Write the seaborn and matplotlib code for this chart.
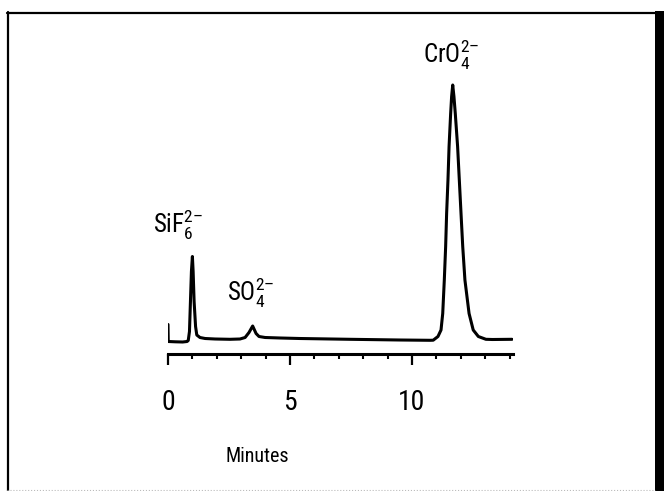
import matplotlib
matplotlib.use("Agg")
import matplotlib.pyplot as plt
from matplotlib import font_manager
from matplotlib.ticker import MultipleLocator
from matplotlib.lines import Line2D
from matplotlib.patches import Rectangle
import seaborn as sns

# chromatogram trace (minutes, detector response, arbitrary units)
minutes = [0.0, 0.01, 0.3, 0.6, 0.78, 0.83, 0.88, 0.92, 0.96, 1.0, 1.03, 1.07, 1.13,
           1.18, 1.31, 1.52, 1.93, 2.54, 2.95, 3.16, 3.32, 3.47, 3.61, 3.73, 3.98,
           4.6, 5.4, 7.46, 9.5, 10.74, 10.87, 11.065, 11.19, 11.26, 11.325, 11.38,
           11.42, 11.475, 11.52, 11.585, 11.625, 11.67, 11.72, 11.775, 11.87, 11.94,
           12.01, 12.08, 12.17, 12.34, 12.51, 12.72, 13.03, 13.3, 14.1]
response = [17, 0, -0.3, -0.5, 0, 1, 10, 40, 70, 85, 70, 40, 15,
            6.5, 4, 3, 2.5, 2.2, 2.5, 4, 9, 15.5, 8, 5, 4,
            3.5, 3, 2.2, 1.5, 1.2, 1.3, 5, 11.5, 28, 61.5, 95,
            128, 161.5, 195, 228, 245, 256.5, 245, 228, 195, 161.5,
            128, 95, 61.5, 28, 11.5, 5, 2.2, 2, 2.2]

# peak labels: text, x (min), y (baseline of the label)
peak_names = ["$\\mathrm{SiF}_{6}^{2\u2013}$", "$\\mathrm{SO}_{4}^{2\u2013}$",
              "$\\mathrm{CrO}_{4}^{2\u2013}$"]
peak_label_x = [-0.61, 2.40, 10.45]
peak_label_y = [108.5, 40.5, 278.5]

tick_values = [0, 5, 10]

# narrowest sans family that is installed
installed = {f.name for f in font_manager.fontManager.ttflist}
wanted = ["Liberation Sans Narrow", "Roboto Condensed", "Open Sans Condensed",
          "Liberation Sans", "Arial", "DejaVu Sans"]
narrow = [n for n in wanted if n in installed][0]

sns.set_style("white")
plt.rcParams["font.family"] = [narrow, "DejaVu Sans"]
plt.rcParams["mathtext.fontset"] = "custom"
plt.rcParams["mathtext.rm"] = narrow
plt.rcParams["mathtext.it"] = narrow + ":italic"
plt.rcParams["mathtext.bf"] = narrow + ":bold"
plt.rcParams["text.color"] = "black"
plt.rcParams["axes.labelcolor"] = "black"
plt.rcParams["xtick.color"] = "black"

W, H = 664, 491
fig = plt.figure(figsize=(6.64, 4.91), dpi=100)
ax = fig.add_axes([168 / W, (H - 354) / H, 344.5 / W, 294 / H])

sns.lineplot(x=minutes, y=response, ax=ax, color="black", linewidth=2.2,
             sort=False, estimator=None)

ax.set_xlim(0, 14.12)
ax.set_ylim(-12.5, 281.5)
for side in ["left", "right", "top"]:
    ax.spines[side].set_visible(False)
ax.spines["bottom"].set_linewidth(2.2)
ax.spines["bottom"].set_color("black")
ax.set_yticks([])
ax.set_xticks(tick_values)
ax.xaxis.set_minor_locator(MultipleLocator(1))
ax.tick_params(axis="x", which="major", direction="out", length=8, width=1.6,
               labelsize=20, pad=17, color="black", bottom=True)
ax.tick_params(axis="x", which="minor", direction="out", length=3.5, width=1.5,
               color="black", bottom=True)

ax.set_xlabel("Minutes", fontsize=14.5)
ax.xaxis.set_label_coords(3.65 / 14.12, -0.347)
ax.xaxis.label.set_va("center")

for name, lx, ly in zip(peak_names, peak_label_x, peak_label_y):
    ax.text(lx, ly, name, fontsize=18, ha="left", va="baseline", clip_on=False)

# scanned frame around the figure
fig.add_artist(Line2D([7.5 / W, 7.5 / W], [0, 1 - 12 / H], transform=fig.transFigure,
                      color="black", linewidth=1.6))
fig.add_artist(Line2D([7 / W, 658 / W], [1 - 12.5 / H, 1 - 12.5 / H],
                      transform=fig.transFigure, color="black", linewidth=1.6))
fig.add_artist(Line2D([7 / W, 655 / W], [1 - 489.5 / H, 1 - 489.5 / H],
                      transform=fig.transFigure, color="#bbbbbb", linewidth=0.8,
                      linestyle=":"))
fig.add_artist(Rectangle((655 / W, 0), 9 / W, 1 - 11 / H, transform=fig.transFigure,
                         facecolor="black", edgecolor="none"))

fig.savefig("out.png", dpi=100)
